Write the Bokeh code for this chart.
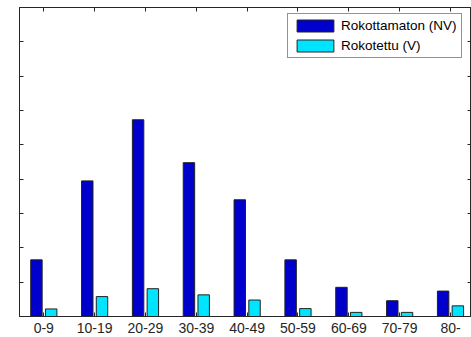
import numpy as np
from bokeh.plotting import figure
from bokeh.models import (Range1d, FixedTicker, LinearAxis, Legend, LegendItem,
                          ColumnDataSource)
from bokeh.transform import dodge
from bokeh.embed import file_html
from bokeh.resources import INLINE

# Age groups and incidence (in y-tick units)
categories = ["0-9", "10-19", "20-29", "30-39", "40-49", "50-59", "60-69", "70-79", "80-"]
unvaccinated = [1.65, 3.95, 5.73, 4.48, 3.40, 1.65, 0.85, 0.46, 0.74]
vaccinated = [0.22, 0.58, 0.81, 0.63, 0.48, 0.23, 0.12, 0.12, 0.31]
series_names = ["Rokottamaton (NV)", "Rokotettu (V)"]
series_colors = ["#0000cc", "#00e5ff"]
y_ticks = list(range(0, 10))

x = np.arange(1, len(categories) + 1)
src = ColumnDataSource(dict(x=x, nv=unvaccinated, v=vaccinated))

p = figure(frame_width=452, frame_height=309, output_backend="svg",
           toolbar_location=None, x_range=Range1d(0.522, 9.413),
           y_range=Range1d(0, 9), min_border_left=19, min_border_top=7,
           min_border_right=0, min_border_bottom=21)
p.xgrid.visible = False
p.ygrid.visible = False
p.outline_line_color = "#262626"
p.background_fill_color = "white"
p.border_fill_color = "white"

axis_col = "#262626"
r1 = p.vbar(x=dodge("x", -0.145), top="nv", width=0.225, bottom=0, source=src,
            fill_color=series_colors[0], line_color="#222222", line_width=1)
r2 = p.vbar(x=dodge("x", 0.145), top="v", width=0.225, bottom=0, source=src,
            fill_color=series_colors[1], line_color="#222222", line_width=1)

# bottom axis
xa = p.xaxis[0]
xa.ticker = FixedTicker(ticks=list(x))
xa.major_label_overrides = {int(i): c for i, c in zip(x, categories)}
xa.major_tick_in = 4
xa.major_tick_out = 0
xa.minor_tick_line_color = None
xa.axis_line_color = axis_col
xa.major_tick_line_color = axis_col
xa.major_label_text_font = "Liberation Sans"
xa.major_label_text_font_size = "14px"
xa.major_label_text_color = "#262626"
xa.major_label_standoff = 6


def ticks_only(axis):
    axis.major_tick_in = 4
    axis.major_tick_out = 0
    axis.minor_tick_line_color = None
    axis.axis_line_color = axis_col
    axis.major_tick_line_color = axis_col
    axis.major_label_text_font_size = "0px"
    axis.major_label_text_color = None
    axis.major_label_standoff = 0


# left axis (its labels lie outside the visible crop)
ya = p.yaxis[0]
ya.ticker = FixedTicker(ticks=y_ticks)
ticks_only(ya)

# top and right axes (ticks only)
top = LinearAxis(ticker=FixedTicker(ticks=list(x)))
right = LinearAxis(ticker=FixedTicker(ticks=y_ticks))
ticks_only(top)
ticks_only(right)
p.add_layout(top, "above")
p.add_layout(right, "right")

legend = Legend(items=[LegendItem(label=series_names[0], renderers=[r1]),
                       LegendItem(label=series_names[1], renderers=[r2])],
                location=(268, 258), padding=4, spacing=5, glyph_height=15,
                glyph_width=46, label_standoff=3, label_height=15, margin=0,
                label_text_font="Liberation Sans", label_text_font_size="13.5px",
                label_text_color="black", border_line_color="#262626",
                border_line_width=1, background_fill_color="white")
p.add_layout(legend, "center")

open("out.html", "w").write(file_html(p, INLINE))
